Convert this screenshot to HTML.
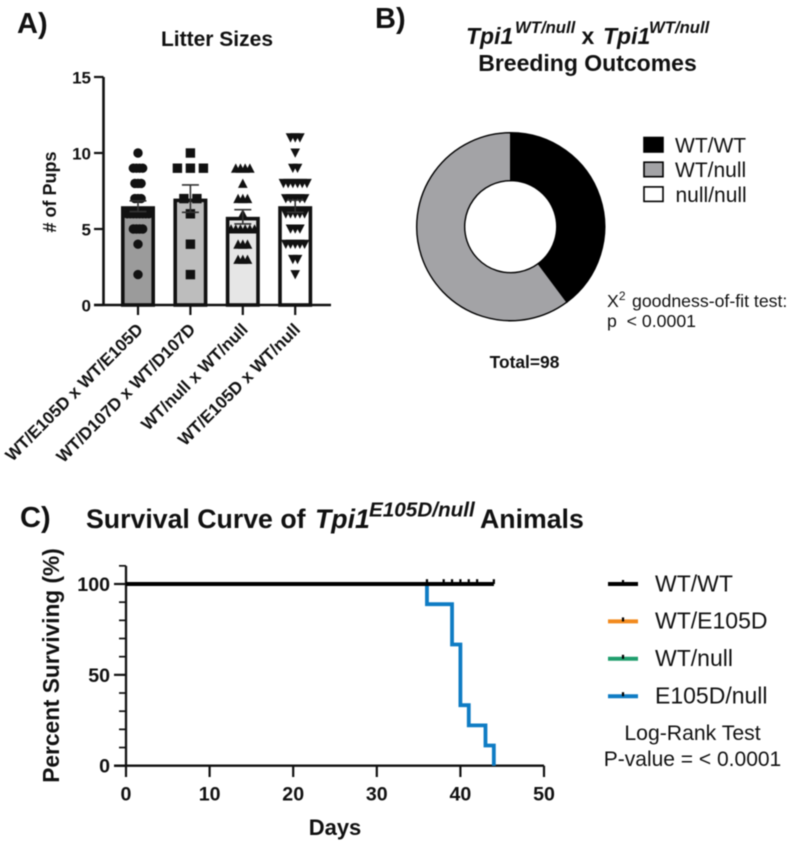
<!DOCTYPE html>
<html lang="en">
<head>
<meta charset="utf-8">
<title>Tpi1 litter sizes, breeding outcomes and survival</title>
<style>
html,body{margin:0;padding:0;background:#fff;}
svg{display:block;filter:blur(0.55px);}
text{font-family:"Liberation Sans",sans-serif;fill:#111;}
.b{font-weight:bold;}
.bi{font-weight:bold;font-style:italic;}
</style>
</head>
<body>
<svg id="fig" xmlns="http://www.w3.org/2000/svg" width="789" height="843" viewBox="0 0 789 843">
  <rect x="0" y="0" width="789" height="843" fill="#fff"/>
  <text class="b" x="17" y="33" font-size="29">A)</text>
  <text class="b" x="217" y="46" font-size="21" text-anchor="middle">Litter Sizes</text>
  <text class="b" transform="translate(56,192) rotate(-90)" font-size="18" text-anchor="middle"># of Pups</text>
  <g id="chartA"></g>

  <text class="b" x="375" y="28" font-size="29">B)</text>
  <text y="44" font-size="23"><tspan class="bi" x="466">Tpi1</tspan><tspan class="bi" font-size="16.7" x="515" dy="-11">WT/null</tspan><tspan class="b" x="581.5" dy="11">x</tspan><tspan class="bi" x="603">Tpi1</tspan><tspan class="bi" font-size="16.7" x="649" dy="-11">WT/null</tspan></text>
  <text class="b" x="587.5" y="71" font-size="23" text-anchor="middle">Breeding Outcomes</text>
  <g id="chartB"></g>
  <text class="b" x="524.5" y="368" font-size="17.4" text-anchor="middle">Total=98</text>
  <text y="307" font-size="17.7"><tspan x="607">X</tspan><tspan font-size="12" dy="-7">2</tspan><tspan x="632" dy="7">goodness-of-fit test:</tspan></text>
  <text x="607" y="327" font-size="17.7">p&#160; &lt; 0.0001</text>

  <text class="b" x="20" y="527" font-size="29">C)</text>
  <text y="528" font-size="26.7"><tspan class="b" x="86">Survival Curve of</tspan><tspan class="bi" x="315">Tpi1</tspan><tspan class="bi" font-size="20.7" x="369" dy="-11.5">E105D/null</tspan><tspan class="b" x="480" dy="11.5">Animals</tspan></text>
  <text class="b" transform="translate(59,665.5) rotate(-90)" font-size="22.7" text-anchor="middle">Percent Surviving (%)</text>
  <text class="b" x="335" y="835" font-size="22" text-anchor="middle">Days</text>
  <g id="chartC"></g>
  <text x="692.5" y="740" font-size="21.2" text-anchor="middle">Log-Rank Test</text>
  <text x="692.5" y="766" font-size="21" text-anchor="middle">P-value = &lt; 0.0001</text>
</svg>
<script>
// ---- Panel A data ----
var litterCategories = ["WT/E105D x WT/E105D", "WT/D107D x WT/D107D", "WT/null x WT/null", "WT/E105D x WT/null"];
var litterMeans = [6.5, 7.0, 5.8, 6.5];
var litterErrors = [0.35, 0.9, 0.47, 0.4];
var litterFills = ["#9b9b9b", "#bdbdbd", "#e6e6e6", "#ffffff"];
var litterSymbols = ["circle", "square", "up", "down"];
var litterRowValues = [
  [10, 9, 8, 7, 6, 5, 4, 2],
  [10, 9, 7, 6, 4, 2],
  [9, 8, 7, 6, 5, 4, 3],
  [11, 10, 9, 8, 7, 6, 5, 4, 3, 2]
];
var litterRowCounts = [
  [1, 4, 3, 3, 8, 4, 1, 1],
  [1, 3, 2, 1, 1, 1],
  [4, 1, 3, 1, 6, 3, 3],
  [3, 1, 2, 6, 5, 5, 3, 5, 2, 1]
];
var litterYTicks = [0, 5, 10, 15];

// ---- Panel B data ----
var outcomeLabels = ["WT/WT", "WT/null", "null/null"];
var outcomeCounts = [39, 59, 0];
var outcomeFills = ["#000000", "#a3a3a6", "#ffffff"];

// ---- Panel C data ----
var survivalSeriesNames = ["WT/WT", "WT/E105D", "WT/null", "E105D/null"];
var survivalColors = ["#000000", "#f28a1e", "#1f9e6d", "#0f7cc4"];
var wtWtDays = [0, 44];
var wtWtSurvival = [100, 100];
var wtE105dDays = [0, 44];
var wtE105dSurvival = [100, 100];
var wtNullDays = [0, 44];
var wtNullSurvival = [100, 100];
var e105dNullDays = [0, 36, 39, 40, 41, 43, 44];
var e105dNullSurvival = [100, 88.9, 66.7, 33.3, 22.2, 11.1, 0];
var censoredDays = [36, 38, 39, 40, 41, 42, 44];
var survivalXTicks = [0, 10, 20, 30, 40, 50];
var survivalYMajorTicks = [0, 50, 100];
var survivalYMinorTicks = [10, 20, 30, 40, 60, 70, 80, 90, 110];

var NS = "http://www.w3.org/2000/svg";
function el(tag, attrs, parent) {
  var e = document.createElementNS(NS, tag);
  for (var k in attrs) e.setAttribute(k, attrs[k]);
  parent.appendChild(e);
  return e;
}
function slug(s) { return s.toLowerCase().replace(/[^a-z0-9]+/g, "-"); }

// ---- Panel A ----
(function () {
  var g = document.getElementById("chartA");
  var INK = "#111";
  function yA(v) { return 305 - v * 15.2; }
  function xA(i) { return 138 + i * 52.4; }
  var e, i, j, k;

  e = el("path", {d: "M103.5 " + yA(15) + "V305", stroke: INK, "stroke-width": 2.6, fill: "none"}, g);
  
  

  litterYTicks.forEach(function (t) {
    var tick = el("line", {x1: 94, x2: 103.5, y1: yA(t), y2: yA(t), stroke: INK, "stroke-width": 2.2}, g);
    
    
    var label = el("text", {x: 91, y: yA(t) + 6.3, "text-anchor": "end", "font-size": 17, "font-weight": "bold"}, g);
    
    
    label.textContent = t;
  });

  for (i = 0; i < litterCategories.length; i++) {
    var cx = xA(i);
    var barTop = yA(litterMeans[i]) + 1.8;
    var bar = el("rect", {x: cx - 15.2, y: barTop, width: 30.4, height: 305 - barTop, fill: litterFills[i], stroke: INK, "stroke-width": 3.6}, g);
    
    
  }

  for (i = 0; i < litterCategories.length; i++) {
    var c = xA(i), sym = litterSymbols[i];
    var spacing = sym === "circle" ? 3.1 : (sym === "square" ? 13 : 4.7);
    for (j = 0; j < litterRowValues[i].length; j++) {
      var n = litterRowCounts[i][j], py = yA(litterRowValues[i][j]);
      for (k = 0; k < n; k++) {
        var px = c + (k - (n - 1) / 2) * spacing, mark;
        if (sym === "circle") {
          mark = el("circle", {cx: px, cy: py, r: 4.7, fill: INK}, g);
        } else if (sym === "square") {
          mark = el("rect", {x: px - 4.7, y: py - 4.7, width: 9.4, height: 9.4, fill: INK}, g);
        } else if (sym === "up") {
          mark = el("path", {d: "M" + px + " " + (py - 4.8) + "L" + (px + 4.8) + " " + (py + 4.5) + "H" + (px - 4.8) + "Z", fill: INK}, g);
        } else {
          mark = el("path", {d: "M" + px + " " + (py + 4.8) + "L" + (px + 4.8) + " " + (py - 4.5) + "H" + (px - 4.8) + "Z", fill: INK}, g);
        }
        
        
      }
    }
  }

  for (i = 0; i < litterCategories.length; i++) {
    var ec = xA(i), up = yA(litterMeans[i] + litterErrors[i]), lo = yA(litterMeans[i] - litterErrors[i]);
    var err = el("path", {d: "M" + (ec - 8.5) + " " + up + "H" + (ec + 8.5) + "M" + ec + " " + up + "V" + lo + "M" + (ec - 8.5) + " " + lo + "H" + (ec + 8.5), stroke: "#333", "stroke-width": 1.6, fill: "none"}, g);
    
    
  }

  e = el("line", {x1: 94, x2: 331, y1: 305, y2: 305, stroke: INK, "stroke-width": 2.4}, g);
  
  

  for (i = 0; i < litterCategories.length; i++) {
    var tx = xA(i);
    var xt = el("line", {x1: tx, x2: tx, y1: 305, y2: 315, stroke: INK, "stroke-width": 2.2}, g);
    
    
    var lab = el("text", {transform: "translate(" + (tx + 6) + ",330.5) rotate(-45)", "text-anchor": "end", "font-size": 17.1, "font-weight": "bold"}, g);
    
    
    lab.textContent = litterCategories[i];
  }
})();

// ---- Panel B ----
(function () {
  var g = document.getElementById("chartB");
  var cx = 510.7, cy = 226.7, R = 94, r = 46;
  var total = outcomeCounts.reduce(function (a, b) { return a + b; }, 0);
  function pt(rad, frac) {
    var a = frac * 2 * Math.PI;
    return (cx + rad * Math.sin(a)) + " " + (cy - rad * Math.cos(a));
  }
  var acc = 0;
  outcomeCounts.forEach(function (v, i) {
    var f0 = acc / total, f1 = (acc + v) / total;
    acc += v;
    if (v === 0) return;
    var large = (f1 - f0) > 0.5 ? 1 : 0;
    var d = "M" + pt(R, f0) + "A" + R + " " + R + " 0 " + large + " 1 " + pt(R, f1) + "L" + pt(r, f1) + "A" + r + " " + r + " 0 " + large + " 0 " + pt(r, f0) + "Z";
    var slice = el("path", {d: d, fill: outcomeFills[i], stroke: "#000", "stroke-width": 1.4}, g);
    
    
  });
  outcomeLabels.forEach(function (name, i) {
    var ly = 137.5 + i * 24.7;
    var sw = el("rect", {x: 644, y: ly, width: 19, height: 14.5, fill: outcomeFills[i], stroke: "#000", "stroke-width": 1.6}, g);
    
    
    var t = el("text", {x: i === 2 ? 675.5 : 675, y: ly + 15, "font-size": 21}, g);
    
    
    t.textContent = name;
  });
})();

// ---- Panel C ----
(function () {
  var g = document.getElementById("chartC");
  var INK = "#111";
  function xC(d) { return 126 + d * 8.36; }
  function yC(v) { return 765.7 - v * 1.817; }
  function stepPath(days, vals) {
    var d = "M" + xC(days[0]) + " " + yC(vals[0]);
    for (var i = 1; i < days.length; i++) {
      d += "H" + xC(days[i]) + "V" + yC(vals[i]);
    }
    return d;
  }
  var e;
  e = el("path", {d: "M" + xC(0) + " " + yC(110) + "V" + yC(0) + "M114 " + yC(0) + "H" + xC(50), stroke: INK, "stroke-width": 2.3, fill: "none"}, g);
  
  

  survivalYMajorTicks.forEach(function (t) {
    var tick = el("line", {x1: 114, x2: xC(0), y1: yC(t), y2: yC(t), stroke: INK, "stroke-width": 2.2}, g);
    
    
    var lab = el("text", {x: 110, y: yC(t) + 7, "text-anchor": "end", "font-size": 19.6, "font-weight": "bold"}, g);
    
    
    lab.textContent = t;
  });
  survivalYMinorTicks.forEach(function (t) {
    var tick = el("line", {x1: 119, x2: xC(0), y1: yC(t), y2: yC(t), stroke: INK, "stroke-width": 1.7}, g);
    
    
  });
  survivalXTicks.forEach(function (t) {
    var tick = el("line", {x1: xC(t), x2: xC(t), y1: yC(0), y2: 777, stroke: INK, "stroke-width": 2.2}, g);
    
    
    var lab = el("text", {x: xC(t), y: 800.5, "text-anchor": "middle", "font-size": 19.6, "font-weight": "bold"}, g);
    
    
    lab.textContent = t;
  });

  var line;
  line = el("path", {d: stepPath(wtE105dDays, wtE105dSurvival), stroke: survivalColors[1], "stroke-width": 4, fill: "none"}, g);
  
  
  line = el("path", {d: stepPath(wtNullDays, wtNullSurvival), stroke: survivalColors[2], "stroke-width": 4, fill: "none"}, g);
  
  
  line = el("path", {d: stepPath(e105dNullDays, e105dNullSurvival), stroke: survivalColors[3], "stroke-width": 3.8, fill: "none", "stroke-linejoin": "miter"}, g);
  
  
  line = el("path", {d: stepPath(wtWtDays, wtWtSurvival), stroke: survivalColors[0], "stroke-width": 4, fill: "none"}, g);
  
  

  censoredDays.forEach(function (d) {
    var c = el("line", {x1: xC(d), x2: xC(d), y1: yC(100) - 4.8, y2: yC(100), stroke: "#000", "stroke-width": 2.2}, g);
    
    
  });

  survivalSeriesNames.forEach(function (name, i) {
    var ly = 584 + i * 37.4;
    var s = el("line", {x1: 608, x2: 638, y1: ly, y2: ly, stroke: survivalColors[i], "stroke-width": 4}, g);
    
    
    var m = el("line", {x1: 623, x2: 623, y1: ly - 4, y2: ly, stroke: "#000", "stroke-width": 2.2}, g);
    
    
    var t = el("text", {x: 655, y: ly + 7.3, "font-size": 23}, g);
    
    
    t.textContent = name;
  });
})();
</script>
</body>
</html>
